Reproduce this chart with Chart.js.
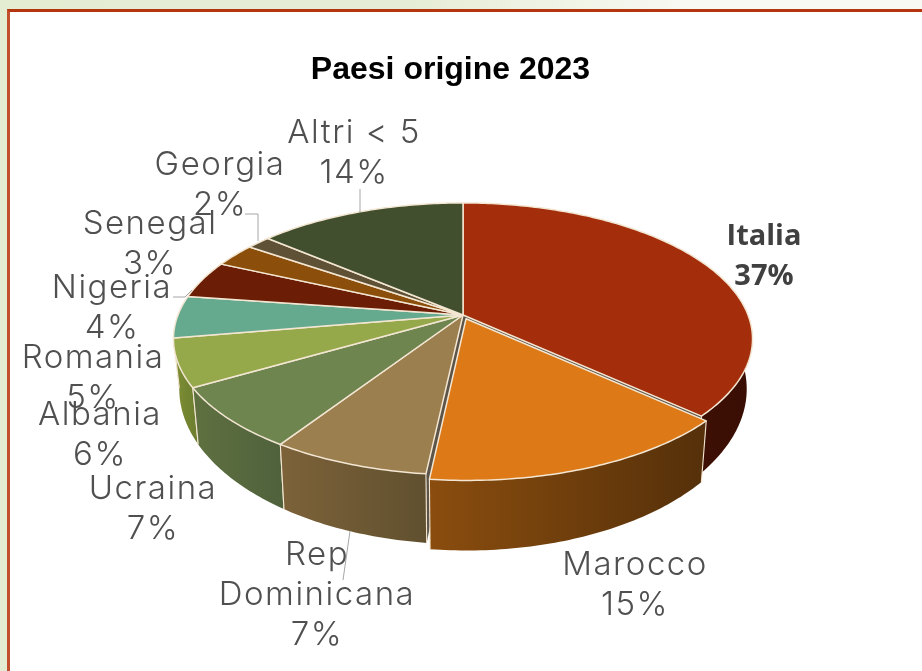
<!DOCTYPE html>
<html><head><meta charset="utf-8">
<script src="https://cdn.jsdelivr.net/npm/chart.js@4"></script>
<style>
html,body{margin:0;padding:0;width:922px;height:671px;overflow:hidden;
 background:linear-gradient(90deg,#e4ecd2 0,#e6edd6 45%,#f8f9f3 75%,#f8f9f3 100%);}
#frame{position:absolute;left:7px;top:9px;width:930px;height:680px;background:#fff;
 border-left:3px solid #c2502f;border-top:3px solid #b5350f;box-sizing:border-box;}
#stripe{position:absolute;left:0;top:0;width:8px;height:671px;background:#e4ecd2;}
canvas{position:absolute;left:0;top:0;}
</style></head>
<body>
<div id="stripe"></div><div id="frame"></div>
<canvas id="c" width="922" height="671"></canvas>
<script>
const categories=['Italia','Marocco','Rep Dominicana','Ucraina','Albania','Romania','Nigeria','Senegal','Georgia','Altri < 5'];
const shares=[36.8,14.9,7.49,7.4,5.7,5.0,4.49,2.8,1.6,13.8];
const sliceColors=['#a42e0b','#dd7a17','#9c7f4f','#6f8550','#95a84a','#65a98f','#6b1e05','#8c4f0b','#5f5136','#414f2e'];
const wallStart=['#4a1306','#8a4d0e','#7d6239','#5f7040','#7f9035','#5a9480','#4a1306','#6a3a08','#4a3f2a','#333f24'];
const wallEnd=['#3a0e04','#55300a','#60502f','#50623c','#6f8030','#5a9480','#4a1306','#6a3a08','#4a3f2a','#333f24'];
const explode=[0,0.03,0,0,0,0,0,0,0,0];
const titleText='Paesi origine 2023';
const labelSpots=[[764,237],[635,565],[317,555],[153,489],[100,415],[93,358],[112,288],[150,224],[220,165],[354,133]];
const leaders=[[[245,214],[258,214],[258,241]],[[173,297],[185,297],[192,290]],[[360,189],[360,212]],[[350,531],[343,580]]];
const VIEW={cx:463,cy:315,rx:285,ry:131.8,p:0.176,depth:47,pow:2,shrink:0.98};
const LINE=40;
const edge='#f3e6d2';

function proj(u,v){const w=1-VIEW.p*v;return [VIEW.cx+VIEW.rx*u/w,VIEW.cy+VIEW.ry*v/w];}
function low(pt,u,v){const w=1-VIEW.p*v;return [VIEW.cx+(pt[0]-VIEW.cx)*VIEW.shrink,pt[1]+VIEW.depth/Math.pow(w,VIEW.pow)];}
function rim(a0,a1,ox,oy){const n=Math.max(2,Math.ceil((a1-a0)/0.015)),out=[];
 for(let i=0;i<=n;i++){const a=a0+(a1-a0)*i/n,u=ox+Math.cos(a),v=oy+Math.sin(a);out.push({p:proj(u,v),q:low(proj(u,v),u,v),v});}
 return out;}
function poly(ctx,pts){ctx.beginPath();pts.forEach((p,i)=>i?ctx.lineTo(p[0],p[1]):ctx.moveTo(p[0],p[1]));}

const pie3d={id:'pie3d',
 beforeDatasetsDraw(chart){
  const ctx=chart.ctx,arcs=chart.getDatasetMeta(0).data;
  const items=arcs.map((el,i)=>{const mid=(el.startAngle+el.endAngle)/2;
   return {i,el,mid,ox:explode[i]*Math.cos(mid),oy:explode[i]*Math.sin(mid)};});
  ctx.save();ctx.lineJoin='round';
  items.forEach(it=>{const nb=explode[(it.i+1)%items.length]>0?it.el.endAngle:(explode[(it.i+items.length-1)%items.length]>0?it.el.startAngle:null);
   if(nb===null)return;
   const u=Math.cos(nb),v=Math.sin(nb),c=proj(0,0),r=proj(u,v),rl=low(r,u,v),cl=low(c,0,0);
   ctx.fillStyle='#5c5448';poly(ctx,[c,r,rl,cl]);ctx.closePath();ctx.fill();});
  [...items].sort((a,b)=>Math.sin(a.mid)-Math.sin(b.mid)).forEach(it=>{
   const r=rim(it.el.startAngle,it.el.endAngle,it.ox,it.oy);
   const xs=r.map(s=>s.p[0]),g=ctx.createLinearGradient(Math.max(...xs),0,Math.min(...xs),0);
   g.addColorStop(0,wallEnd[it.i]);g.addColorStop(1,wallStart[it.i]);
   poly(ctx,r.map(s=>s.p).concat(r.map(s=>s.q).reverse()));ctx.closePath();
   ctx.fillStyle=g;ctx.fill();
   ctx.strokeStyle=edge;ctx.lineWidth=1.1;
   [r[0],r[r.length-1]].forEach(s=>{if(s.v>0.05){poly(ctx,[s.p,s.q]);ctx.stroke();}});
  });
  items.forEach(it=>{
   const r=rim(it.el.startAngle,it.el.endAngle,it.ox,it.oy),c=proj(it.ox,it.oy);
   poly(ctx,[c].concat(r.map(s=>s.p)));ctx.closePath();
   ctx.fillStyle=sliceColors[it.i];ctx.fill();
   ctx.strokeStyle=edge;ctx.lineWidth=1.5;ctx.stroke();
  });
  ctx.restore();
  return false;
 },
 afterDraw(chart){
  const ctx=chart.ctx;ctx.save();
  ctx.strokeStyle='#a6a6a6';ctx.lineWidth=1;
  leaders.forEach(l=>{poly(ctx,l);ctx.stroke();});
  ctx.textAlign='center';ctx.textBaseline='middle';
  categories.forEach((name,i)=>{
   const lines=(name==='Rep Dominicana'?name.split(' '):[name]).concat(Math.round(shares[i])+'%');
   ctx.font=(i===0?'bold 29px "Open Sans"':'300 33px Inter');
   ctx.letterSpacing=i===0?'0px':'1.5px';
   ctx.fillStyle=i===0?'#404040':'#505050';
   lines.forEach((t,k)=>ctx.fillText(t,labelSpots[i][0],labelSpots[i][1]+k*LINE));
  });
  ctx.restore();
 }};

new Chart(document.getElementById('c'),{
 type:'pie',
 data:{labels:categories,datasets:[{data:shares,backgroundColor:sliceColors,borderWidth:0}]},
 options:{responsive:false,animation:false,
  layout:{padding:{right:21}},
  plugins:{legend:{display:false},tooltip:{enabled:false},
   title:{display:true,text:titleText,color:'#000',font:{family:'"Liberation Sans"',size:32,weight:'bold'},padding:{top:51,bottom:0}}}},
 plugins:[pie3d]});
</script>
</body></html>
